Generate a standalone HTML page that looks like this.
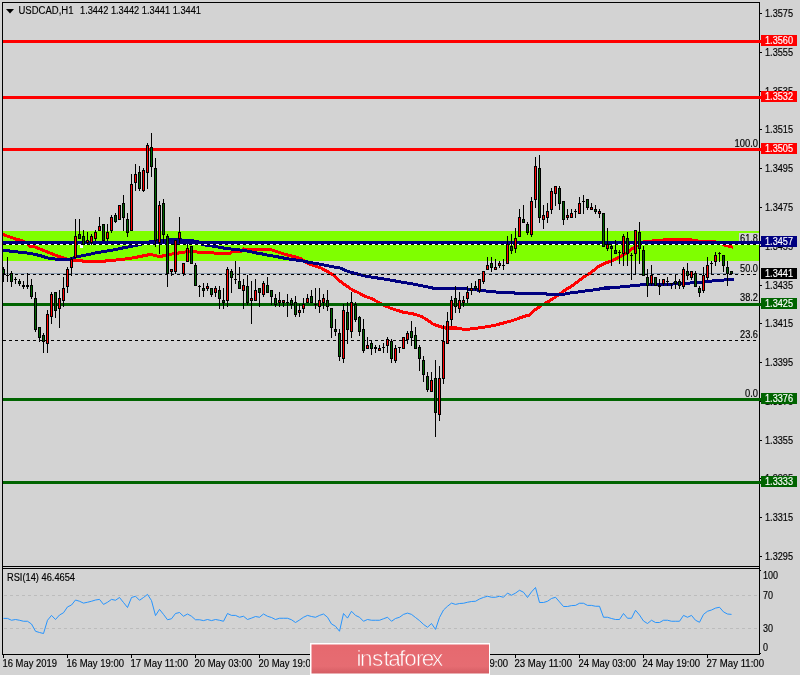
<!DOCTYPE html>
<html lang="en"><head><meta charset="utf-8"><title>USDCAD H1</title>
<style>html,body{margin:0;padding:0;background:#d3d3d3;}body{width:800px;height:675px;overflow:hidden}svg{display:block}</style>
</head><body>
<svg width="800" height="675" viewBox="0 0 800 675" font-family="'Liberation Sans', sans-serif" font-size="10px">
<rect x="0" y="0" width="800" height="675" fill="#d3d3d3"/>
<g shape-rendering="crispEdges">
<rect x="3" y="231" width="756" height="30" fill="#7fff00"/>
<rect x="2" y="2" width="758" height="1" fill="#000"/>
<rect x="2" y="2" width="1" height="653" fill="#000"/>
<rect x="759" y="2" width="1" height="653" fill="#000"/>
<rect x="2" y="566" width="758" height="1" fill="#000"/>
<rect x="2" y="568" width="758" height="1" fill="#000"/>
<rect x="2" y="654" width="758" height="1" fill="#000"/>
<rect x="3" y="567" width="756" height="1" fill="#d3d3d3"/>
</g>
<g shape-rendering="crispEdges">
<rect x="760" y="13" width="2" height="1" fill="#000"/>
<rect x="760" y="52" width="2" height="1" fill="#000"/>
<rect x="760" y="91" width="2" height="1" fill="#000"/>
<rect x="760" y="129" width="2" height="1" fill="#000"/>
<rect x="760" y="168" width="2" height="1" fill="#000"/>
<rect x="760" y="207" width="2" height="1" fill="#000"/>
<rect x="760" y="246" width="2" height="1" fill="#000"/>
<rect x="760" y="285" width="2" height="1" fill="#000"/>
<rect x="760" y="323" width="2" height="1" fill="#000"/>
<rect x="760" y="362" width="2" height="1" fill="#000"/>
<rect x="760" y="401" width="2" height="1" fill="#000"/>
<rect x="760" y="440" width="2" height="1" fill="#000"/>
<rect x="760" y="478" width="2" height="1" fill="#000"/>
<rect x="760" y="517" width="2" height="1" fill="#000"/>
<rect x="760" y="556" width="2" height="1" fill="#000"/>
</g>
<text x="765" y="17" fill="#000" stroke="#000" stroke-width="0.15" textLength="28" lengthAdjust="spacingAndGlyphs">1.3575</text>
<text x="765" y="56" fill="#000" stroke="#000" stroke-width="0.15" textLength="28" lengthAdjust="spacingAndGlyphs">1.3555</text>
<text x="765" y="95" fill="#000" stroke="#000" stroke-width="0.15" textLength="28" lengthAdjust="spacingAndGlyphs">1.3535</text>
<text x="765" y="133" fill="#000" stroke="#000" stroke-width="0.15" textLength="28" lengthAdjust="spacingAndGlyphs">1.3515</text>
<text x="765" y="172" fill="#000" stroke="#000" stroke-width="0.15" textLength="28" lengthAdjust="spacingAndGlyphs">1.3495</text>
<text x="765" y="211" fill="#000" stroke="#000" stroke-width="0.15" textLength="28" lengthAdjust="spacingAndGlyphs">1.3475</text>
<text x="765" y="250" fill="#000" stroke="#000" stroke-width="0.15" textLength="28" lengthAdjust="spacingAndGlyphs">1.3455</text>
<text x="765" y="289" fill="#000" stroke="#000" stroke-width="0.15" textLength="28" lengthAdjust="spacingAndGlyphs">1.3435</text>
<text x="765" y="327" fill="#000" stroke="#000" stroke-width="0.15" textLength="28" lengthAdjust="spacingAndGlyphs">1.3415</text>
<text x="765" y="366" fill="#000" stroke="#000" stroke-width="0.15" textLength="28" lengthAdjust="spacingAndGlyphs">1.3395</text>
<text x="765" y="405" fill="#000" stroke="#000" stroke-width="0.15" textLength="28" lengthAdjust="spacingAndGlyphs">1.3375</text>
<text x="765" y="444" fill="#000" stroke="#000" stroke-width="0.15" textLength="28" lengthAdjust="spacingAndGlyphs">1.3355</text>
<text x="765" y="482" fill="#000" stroke="#000" stroke-width="0.15" textLength="28" lengthAdjust="spacingAndGlyphs">1.3335</text>
<text x="765" y="521" fill="#000" stroke="#000" stroke-width="0.15" textLength="28" lengthAdjust="spacingAndGlyphs">1.3315</text>
<text x="765" y="560" fill="#000" stroke="#000" stroke-width="0.15" textLength="28" lengthAdjust="spacingAndGlyphs">1.3295</text>
<text x="763" y="579" fill="#000" stroke="#000" stroke-width="0.15" textLength="15" lengthAdjust="spacingAndGlyphs">100</text>
<text x="763" y="599" fill="#000" stroke="#000" stroke-width="0.15" textLength="10" lengthAdjust="spacingAndGlyphs">70</text>
<text x="763" y="632" fill="#000" stroke="#000" stroke-width="0.15" textLength="10" lengthAdjust="spacingAndGlyphs">30</text>
<text x="763" y="651" fill="#000" stroke="#000" stroke-width="0.15" textLength="5" lengthAdjust="spacingAndGlyphs">0</text>
<g shape-rendering="crispEdges">
<rect x="760" y="570" width="1" height="1" fill="#000"/>
<rect x="760" y="653" width="1" height="1" fill="#000"/>
<path d="M4 595.5H758M4 628.5H758" stroke="#bcbcbc" stroke-width="1" stroke-dasharray="3 3" fill="none"/>
</g>
<rect x="3" y="273" width="756" height="1" fill="#8a9bb0" shape-rendering="crispEdges"/>
<path d="M3 233h1v3h-1zM4 233h1v4h-1zM5 234h2v3h-2zM7 235h3v3h-3zM10 236h3v3h-3zM13 237h2v3h-2zM15 237h1v4h-1zM16 238h3v3h-3zM19 238h1v4h-1zM20 239h3v3h-3zM23 240h2v3h-2zM25 241h1v3h-1zM26 241h1v4h-1zM27 242h1v4h-1zM28 243h1v4h-1zM29 244h1v4h-1zM30 245h5v3h-5zM35 246h2v3h-2zM37 246h1v4h-1zM38 247h2v3h-2zM40 248h2v3h-2zM42 248h1v4h-1zM43 249h2v3h-2zM45 250h2v3h-2zM47 250h1v4h-1zM48 251h2v3h-2zM50 252h2v3h-2zM52 252h1v4h-1zM53 253h2v3h-2zM55 254h2v3h-2zM57 254h1v4h-1zM58 255h3v3h-3zM61 256h3v3h-3zM64 257h3v3h-3zM67 258h5v3h-5zM72 259h10v3h-10zM82 259h1v4h-1zM83 260h22v3h-22zM105 259h1v4h-1zM106 259h10v3h-10zM116 258h9v3h-9zM125 257h7v3h-7zM132 256h5v3h-5zM137 255h1v4h-1zM138 255h4v3h-4zM142 254h1v4h-1zM143 254h4v3h-4zM147 253h1v4h-1zM148 253h5v3h-5zM153 254h4v3h-4zM157 255h5v3h-5zM162 254h1v4h-1zM163 254h3v3h-3zM166 253h6v3h-6zM172 252h6v3h-6zM178 251h1v4h-1zM179 251h6v3h-6zM185 250h12v3h-12zM197 251h17v3h-17zM214 252h16v3h-16zM230 251h1v4h-1zM231 251h1v3h-1zM232 250h9v3h-9zM241 249h1v4h-1zM242 248h1v4h-1zM243 247h1v4h-1zM244 248h28v3h-28zM272 249h3v3h-3zM275 250h3v3h-3zM278 251h3v3h-3zM281 252h3v3h-3zM284 253h3v3h-3zM287 253h1v4h-1zM288 254h3v3h-3zM291 254h1v4h-1zM292 255h3v3h-3zM295 255h1v4h-1zM296 256h3v3h-3zM299 257h2v3h-2zM301 257h1v4h-1zM302 258h1v4h-1zM303 259h1v3h-1zM304 259h1v4h-1zM305 260h1v4h-1zM306 261h1v3h-1zM307 261h1v4h-1zM308 262h1v3h-1zM309 263h3v3h-3zM312 264h3v3h-3zM315 265h3v3h-3zM318 266h3v3h-3zM321 267h1v3h-1zM322 267h1v4h-1zM323 268h1v3h-1zM324 268h1v4h-1zM325 269h1v3h-1zM326 269h1v4h-1zM327 270h1v3h-1zM328 270h1v4h-1zM329 271h1v3h-1zM330 272h1v3h-1zM331 272h1v4h-1zM332 273h1v3h-1zM333 273h1v4h-1zM334 274h1v4h-1zM335 275h1v4h-1zM336 276h1v4h-1zM337 277h1v4h-1zM338 278h1v4h-1zM339 279h1v4h-1zM340 280h1v3h-1zM341 280h1v4h-1zM342 281h1v4h-1zM343 282h1v4h-1zM344 283h1v3h-1zM345 283h1v4h-1zM346 284h1v4h-1zM347 285h1v3h-1zM348 285h1v4h-1zM349 286h1v4h-1zM350 287h1v3h-1zM351 288h1v3h-1zM352 288h1v4h-1zM353 289h1v3h-1zM354 289h1v4h-1zM355 290h2v3h-2zM357 291h2v3h-2zM359 292h1v3h-1zM360 292h1v4h-1zM361 293h1v3h-1zM362 293h1v4h-1zM363 294h1v3h-1zM364 294h1v4h-1zM365 295h2v3h-2zM367 296h3v3h-3zM370 297h2v3h-2zM372 297h1v4h-1zM373 298h1v3h-1zM374 298h1v4h-1zM375 299h1v3h-1zM376 300h1v3h-1zM377 300h1v4h-1zM378 301h1v3h-1zM379 301h1v4h-1zM380 302h1v3h-1zM381 302h1v4h-1zM382 303h1v3h-1zM383 303h1v4h-1zM384 304h1v3h-1zM385 304h1v4h-1zM386 305h2v3h-2zM388 306h2v3h-2zM390 307h3v3h-3zM393 308h3v3h-3zM396 309h3v3h-3zM399 309h1v4h-1zM400 310h2v3h-2zM402 310h1v4h-1zM403 311h5v3h-5zM408 312h5v3h-5zM413 312h1v4h-1zM414 313h3v3h-3zM417 314h3v3h-3zM420 315h2v3h-2zM422 315h1v4h-1zM423 316h1v3h-1zM424 317h1v3h-1zM425 317h1v4h-1zM426 318h1v3h-1zM427 318h1v4h-1zM428 319h1v4h-1zM429 320h1v3h-1zM430 320h1v4h-1zM431 321h1v4h-1zM432 322h1v3h-1zM433 323h2v3h-2zM435 323h1v4h-1zM436 324h2v3h-2zM438 324h1v4h-1zM439 325h2v3h-2zM441 325h1v4h-1zM442 326h3v3h-3zM445 326h12v4h-12zM457 327h5v3h-5zM462 328h8v3h-8zM470 327h8v3h-8zM478 326h7v3h-7zM485 325h6v3h-6zM491 324h5v3h-5zM496 323h3v3h-3zM499 322h1v4h-1zM500 322h3v3h-3zM503 321h1v4h-1zM504 321h3v3h-3zM507 320h4v3h-4zM511 319h3v3h-3zM514 318h3v3h-3zM517 317h2v3h-2zM519 316h1v4h-1zM520 316h2v3h-2zM522 315h1v4h-1zM523 315h2v3h-2zM525 314h1v4h-1zM526 314h3v3h-3zM529 313h1v4h-1zM530 312h1v4h-1zM531 311h1v4h-1zM532 310h1v4h-1zM533 309h1v4h-1zM534 308h1v4h-1zM535 308h1v3h-1zM536 307h1v4h-1zM537 306h1v4h-1zM538 306h1v3h-1zM539 305h1v4h-1zM540 304h1v4h-1zM541 304h1v3h-1zM542 303h2v3h-2zM544 302h1v3h-1zM545 301h1v4h-1zM546 301h1v3h-1zM547 300h1v4h-1zM548 300h1v3h-1zM549 299h1v4h-1zM550 298h1v4h-1zM551 298h1v3h-1zM552 297h1v4h-1zM553 297h1v3h-1zM554 296h1v3h-1zM555 295h1v4h-1zM556 294h1v4h-1zM557 294h1v3h-1zM558 293h1v4h-1zM559 292h1v4h-1zM560 292h1v3h-1zM561 291h1v4h-1zM562 290h1v4h-1zM563 289h1v4h-1zM564 289h1v3h-1zM565 288h1v4h-1zM566 287h1v4h-1zM567 287h1v3h-1zM568 286h1v4h-1zM569 286h1v3h-1zM570 285h1v4h-1zM571 284h1v4h-1zM572 284h1v3h-1zM573 283h1v4h-1zM574 282h1v4h-1zM575 281h1v4h-1zM576 281h1v3h-1zM577 280h1v4h-1zM578 279h1v4h-1zM579 278h1v4h-1zM580 278h1v3h-1zM581 277h1v4h-1zM582 276h1v4h-1zM583 275h1v4h-1zM584 275h1v3h-1zM585 274h1v4h-1zM586 274h1v3h-1zM587 273h1v3h-1zM588 272h1v4h-1zM589 272h1v3h-1zM590 271h1v4h-1zM591 270h1v4h-1zM592 269h1v4h-1zM593 269h1v3h-1zM594 268h1v4h-1zM595 267h1v4h-1zM596 266h1v4h-1zM597 265h1v4h-1zM598 265h1v3h-1zM599 264h1v4h-1zM600 264h1v3h-1zM601 263h1v4h-1zM602 263h1v3h-1zM603 262h1v4h-1zM604 262h1v3h-1zM605 261h1v4h-1zM606 261h2v3h-2zM608 260h1v4h-1zM609 260h2v3h-2zM611 259h1v4h-1zM612 259h1v3h-1zM613 258h1v4h-1zM614 258h1v3h-1zM615 257h1v4h-1zM616 257h1v3h-1zM617 256h1v4h-1zM618 256h1v3h-1zM619 255h1v4h-1zM620 255h1v3h-1zM621 254h1v4h-1zM622 254h1v3h-1zM623 253h1v4h-1zM624 253h1v3h-1zM625 252h1v3h-1zM626 251h1v4h-1zM627 250h1v4h-1zM628 250h1v3h-1zM629 249h1v4h-1zM630 248h1v4h-1zM631 247h1v4h-1zM632 247h1v3h-1zM633 246h1v4h-1zM634 245h1v4h-1zM635 244h1v4h-1zM636 244h1v3h-1zM637 243h1v4h-1zM638 243h1v3h-1zM639 242h1v4h-1zM640 242h1v3h-1zM641 241h2v3h-2zM643 240h1v4h-1zM644 240h8v3h-8zM652 239h1v4h-1zM653 239h10v3h-10zM663 238h29v3h-29zM692 239h6v3h-6zM698 240h18v3h-18zM716 241h3v3h-3zM719 241h1v4h-1zM720 242h2v3h-2zM722 243h2v3h-2zM724 243h1v4h-1zM725 244h3v3h-3zM728 245h4v3h-4zM732 246h1v3h-1z" fill="#ff0000" shape-rendering="crispEdges"/>
<path d="M3 249h6v3h-6zM9 249h1v4h-1zM10 250h8v3h-8zM18 251h9v3h-9zM27 252h6v3h-6zM33 253h4v3h-4zM37 253h1v4h-1zM38 254h3v3h-3zM41 254h1v4h-1zM42 255h2v3h-2zM44 255h1v4h-1zM45 256h3v3h-3zM48 257h7v3h-7zM55 258h15v3h-15zM70 257h3v3h-3zM73 256h3v3h-3zM76 255h5v3h-5zM81 254h5v3h-5zM86 253h5v3h-5zM91 252h4v3h-4zM95 251h6v3h-6zM101 250h6v3h-6zM107 249h6v3h-6zM113 248h5v3h-5zM118 247h4v3h-4zM122 246h1v4h-1zM123 246h5v3h-5zM128 245h5v3h-5zM133 244h4v3h-4zM137 243h1v4h-1zM138 243h3v3h-3zM141 242h1v4h-1zM142 242h3v3h-3zM145 241h1v4h-1zM146 241h3v3h-3zM149 240h1v4h-1zM150 240h4v3h-4zM154 239h13v3h-13zM167 238h1v4h-1zM168 238h13v3h-13zM181 238h1v4h-1zM182 239h12v3h-12zM194 240h4v3h-4zM198 240h1v4h-1zM199 241h1v4h-1zM200 242h1v3h-1zM201 242h1v4h-1zM202 243h3v3h-3zM205 244h7v3h-7zM212 245h6v3h-6zM218 246h5v3h-5zM223 246h1v4h-1zM224 247h7v3h-7zM231 248h9v3h-9zM240 249h7v3h-7zM247 250h5v3h-5zM252 251h4v3h-4zM256 251h1v4h-1zM257 252h5v3h-5zM262 252h1v4h-1zM263 253h4v3h-4zM267 254h6v3h-6zM273 255h5v3h-5zM278 255h1v4h-1zM279 256h4v3h-4zM283 256h1v4h-1zM284 257h5v3h-5zM289 258h7v3h-7zM296 259h7v3h-7zM303 260h4v3h-4zM307 260h1v4h-1zM308 261h5v3h-5zM313 262h6v3h-6zM319 263h5v3h-5zM324 264h5v3h-5zM329 265h5v3h-5zM334 266h6v3h-6zM340 267h2v3h-2zM342 267h1v4h-1zM343 268h1v3h-1zM344 268h1v4h-1zM345 269h2v3h-2zM347 270h3v3h-3zM350 271h3v3h-3zM353 271h1v4h-1zM354 272h3v3h-3zM357 272h1v4h-1zM358 273h3v3h-3zM361 274h4v3h-4zM365 275h6v3h-6zM371 276h6v3h-6zM377 276h1v4h-1zM378 277h6v3h-6zM384 278h6v3h-6zM390 279h5v3h-5zM395 279h1v4h-1zM396 280h5v3h-5zM401 281h6v3h-6zM407 282h6v3h-6zM413 283h5v3h-5zM418 284h5v3h-5zM423 285h5v3h-5zM428 286h4v3h-4zM432 286h1v4h-1zM433 287h34v3h-34zM467 287h1v4h-1zM468 288h9v3h-9zM477 288h1v4h-1zM478 289h8v3h-8zM486 290h10v3h-10zM496 291h18v3h-18zM514 291h1v4h-1zM515 292h31v3h-31zM546 292h1v4h-1zM547 293h18v3h-18zM565 292h5v3h-5zM570 291h8v3h-8zM578 290h7v3h-7zM585 289h8v3h-8zM593 288h6v3h-6zM599 287h1v4h-1zM600 287h4v3h-4zM604 286h6v4h-6zM610 286h10v3h-10zM620 285h10v3h-10zM630 284h10v3h-10zM640 283h33v3h-33zM673 282h17v3h-17zM690 281h14v3h-14zM704 280h8v3h-8zM712 279h12v3h-12zM724 278h10v3h-10z" fill="#000080" shape-rendering="crispEdges"/>
<path d="M3.5 618.4 L7.5 618.4 L11.5 620.25 L15.5 619.5 L19.5 620.25 L23.5 621.25 L27.5 621.25 L31.5 624 L35.5 631.25 L39.5 632.5 L43.5 633.5 L47.5 620.25 L51.5 615.4 L55.5 619.5 L59.5 615 L63.5 612.75 L67.5 606.9 L71.5 605 L75.5 600 L79.5 601.25 L83.5 603.1 L87.5 602.25 L91.5 601.25 L95.5 600 L99.5 599.4 L103.5 604.4 L107.5 602.25 L111.5 599.4 L115.5 600.25 L119.5 597.5 L123.5 602.5 L127.5 607.5 L131.5 597.5 L135.5 596.25 L139.5 600.25 L143.5 597.5 L147.5 594.4 L151.5 600.6 L155.5 615.6 L159.5 609.4 L163.5 614.4 L167.5 619.75 L171.5 618.75 L175.5 613.5 L179.5 612.5 L183.5 616.25 L187.5 614 L191.5 616.25 L195.5 619.75 L199.5 619.75 L203.5 620.6 L207.5 619.5 L211.5 620.6 L215.5 619.5 L219.5 620.25 L223.5 621.25 L227.5 613.5 L231.5 615.4 L235.5 615.4 L239.5 617.25 L243.5 616.25 L247.5 619.5 L251.5 618.1 L255.5 616.5 L259.5 617.25 L263.5 614 L267.5 616.25 L271.5 617.5 L275.5 619.5 L279.5 618.25 L283.5 618.25 L287.5 618.25 L291.5 619.75 L295.5 622.5 L299.5 620 L303.5 617.25 L307.5 615.4 L311.5 616.5 L315.5 617.25 L319.5 615.4 L323.5 614 L327.5 617.25 L331.5 624 L335.5 626.25 L339.5 631.25 L343.5 613.5 L347.5 618.1 L351.5 611.25 L355.5 615.4 L359.5 617.25 L363.5 621.25 L367.5 619.5 L371.5 620.25 L375.5 620.25 L379.5 620.25 L383.5 618.75 L387.5 617.25 L391.5 621.25 L395.5 618.5 L399.5 617.25 L403.5 614.4 L407.5 613.1 L411.5 614.4 L415.5 617.5 L419.5 620.6 L423.5 624.4 L427.5 627.25 L431.5 623.5 L435.5 629.4 L439.5 617.5 L443.5 610 L447.5 606.25 L451.5 603.1 L455.5 604.4 L459.5 603.5 L463.5 603.25 L467.5 602.25 L471.5 601.5 L475.5 601.25 L479.5 599 L483.5 597.4 L487.5 596.25 L491.5 597.25 L495.5 597.25 L499.5 596.25 L503.5 597.25 L507.5 593.1 L511.5 595.25 L515.5 593.1 L519.5 590.25 L523.5 592.25 L527.5 597.5 L531.5 591.9 L535.5 587.5 L539.5 602.5 L543.5 602.5 L547.5 601.25 L551.5 598.5 L555.5 597.25 L559.5 601.9 L563.5 606.5 L567.5 606.5 L571.5 605.6 L575.5 605.4 L579.5 603.25 L583.5 603.25 L587.5 605.4 L591.5 605.4 L595.5 606.25 L599.5 606.25 L603.5 617.25 L607.5 617.25 L611.5 618.5 L615.5 619.5 L619.5 619.5 L623.5 613.5 L627.5 618.25 L631.5 618.25 L635.5 610.25 L639.5 615 L643.5 621 L647.5 623.5 L651.5 620.25 L655.5 622.5 L659.5 622.5 L663.5 620.25 L667.5 620.25 L671.5 621.25 L675.5 621.25 L679.5 621.25 L683.5 615.4 L687.5 617.25 L691.5 615.4 L695.5 620.25 L699.5 622.25 L703.5 614.4 L707.5 611.25 L711.5 610 L715.5 608.1 L719.5 607.25 L723.5 611.9 L727.5 614 L731.5 614.4" fill="none" stroke="#1e90ff" stroke-width="0.95" stroke-linejoin="round" stroke-linecap="butt"/>
<rect x="739" y="233" width="20" height="11" fill="#d3d3d3" shape-rendering="crispEdges"/>
<rect x="739" y="263" width="20" height="11" fill="#d3d3d3" shape-rendering="crispEdges"/>
<text x="758" y="147" fill="#000" stroke="#000" stroke-width="0.15" text-anchor="end" textLength="23.5" lengthAdjust="spacingAndGlyphs">100.0</text>
<text x="758" y="242" fill="#000" stroke="#000" stroke-width="0.15" text-anchor="end" textLength="18" lengthAdjust="spacingAndGlyphs">61.8</text>
<text x="758" y="272" fill="#000" stroke="#000" stroke-width="0.15" text-anchor="end" textLength="18" lengthAdjust="spacingAndGlyphs">50.0</text>
<text x="758" y="301" fill="#000" stroke="#000" stroke-width="0.15" text-anchor="end" textLength="18" lengthAdjust="spacingAndGlyphs">38.2</text>
<text x="758" y="338.3" fill="#000" stroke="#000" stroke-width="0.15" text-anchor="end" textLength="18" lengthAdjust="spacingAndGlyphs">23.6</text>
<text x="758" y="397" fill="#000" stroke="#000" stroke-width="0.15" text-anchor="end" textLength="13" lengthAdjust="spacingAndGlyphs">0.0</text>
<g shape-rendering="crispEdges">
<rect x="3" y="244" width="756" height="1" fill="#ffffff"/>
<path d="M3 244.5H759M3 274.5H759M3 340.5H759" stroke="#000" stroke-width="1" stroke-dasharray="3 3" fill="none"/>
<rect x="3" y="40" width="758" height="3" fill="#ff0000"/>
<rect x="3" y="96" width="758" height="3" fill="#ff0000"/>
<rect x="3" y="148" width="758" height="3" fill="#ff0000"/>
<rect x="3" y="303" width="758" height="3" fill="#006400"/>
<rect x="3" y="398" width="758" height="3" fill="#006400"/>
<rect x="3" y="481" width="758" height="3" fill="#006400"/>
<rect x="3" y="241" width="758" height="3" fill="#000080"/>
</g>
<g shape-rendering="crispEdges">
<path d="M3 267h1v15h-1zM7 257h1v25h-1zM11 271h1v16h-1zM15 277h1v7h-1zM19 279h1v7h-1zM23 281h1v8h-1zM27 273h1v16h-1zM31 279h1v20h-1zM35 292h1v40h-1zM39 327h1v15h-1zM43 333h1v20h-1zM47 310h1v43h-1zM51 292h1v32h-1zM55 292h1v26h-1zM59 290h1v38h-1zM63 277h1v30h-1zM67 267h1v26h-1zM71 257h1v19h-1zM75 219h1v39h-1zM79 219h1v20h-1zM83 230h1v15h-1zM87 232h1v13h-1zM91 234h1v11h-1zM95 230h1v11h-1zM99 217h1v14h-1zM103 224h1v17h-1zM107 224h1v17h-1zM111 215h1v18h-1zM115 213h1v10h-1zM119 205h1v15h-1zM123 195h1v36h-1zM127 213h1v24h-1zM131 174h1v57h-1zM135 164h1v27h-1zM139 166h1v25h-1zM143 168h1v24h-1zM147 143h1v46h-1zM151 133h1v44h-1zM155 158h1v89h-1zM159 201h1v53h-1zM163 199h1v44h-1zM167 234h1v53h-1zM171 269h1v7h-1zM175 240h1v34h-1zM179 217h1v26h-1zM183 263h1v13h-1zM187 244h1v18h-1zM191 246h1v18h-1zM195 263h1v23h-1zM199 285h1v12h-1zM203 283h1v14h-1zM207 283h1v8h-1zM211 288h1v9h-1zM215 286h1v11h-1zM219 286h1v23h-1zM223 288h1v21h-1zM227 267h1v40h-1zM231 269h1v24h-1zM235 261h1v23h-1zM239 267h1v22h-1zM243 279h1v30h-1zM247 275h1v30h-1zM251 281h1v43h-1zM255 279h1v22h-1zM259 288h1v19h-1zM263 281h1v16h-1zM267 277h1v16h-1zM271 290h1v15h-1zM275 294h1v13h-1zM279 292h1v15h-1zM283 300h1v7h-1zM287 294h1v23h-1zM291 298h1v11h-1zM295 296h1v21h-1zM299 304h1v13h-1zM303 298h1v15h-1zM307 294h1v9h-1zM311 290h1v13h-1zM315 288h1v21h-1zM319 288h1v25h-1zM323 294h1v15h-1zM327 290h1v21h-1zM331 308h1v30h-1zM335 319h1v17h-1zM339 329h1v32h-1zM343 304h1v59h-1zM347 302h1v42h-1zM351 292h1v46h-1zM355 302h1v20h-1zM359 316h1v20h-1zM363 319h1v34h-1zM367 337h1v12h-1zM371 341h1v14h-1zM375 345h1v8h-1zM379 345h1v6h-1zM383 343h1v10h-1zM387 337h1v16h-1zM391 339h1v24h-1zM395 345h1v18h-1zM399 347h1v6h-1zM403 337h1v12h-1zM407 331h1v13h-1zM411 321h1v25h-1zM415 327h1v22h-1zM419 345h1v26h-1zM423 356h1v26h-1zM427 372h1v20h-1zM431 372h1v20h-1zM435 360h1v77h-1zM439 366h1v55h-1zM443 325h1v59h-1zM447 312h1v32h-1zM451 296h1v30h-1zM455 286h1v27h-1zM459 292h1v21h-1zM463 296h1v11h-1zM467 286h1v17h-1zM471 283h1v12h-1zM475 281h1v10h-1zM479 279h1v14h-1zM483 271h1v13h-1zM487 257h1v13h-1zM491 257h1v15h-1zM495 259h1v11h-1zM499 261h1v7h-1zM503 259h1v11h-1zM507 236h1v28h-1zM511 234h1v20h-1zM515 228h1v25h-1zM519 209h1v28h-1zM523 205h1v18h-1zM527 222h1v13h-1zM531 197h1v40h-1zM535 157h1v51h-1zM539 155h1v68h-1zM543 205h1v24h-1zM547 203h1v20h-1zM551 188h1v26h-1zM555 186h1v20h-1zM559 186h1v24h-1zM563 201h1v24h-1zM567 209h1v11h-1zM571 209h1v9h-1zM575 209h1v9h-1zM579 197h1v17h-1zM583 195h1v19h-1zM587 199h1v11h-1zM591 203h1v7h-1zM595 205h1v9h-1zM599 209h1v9h-1zM603 213h1v34h-1zM607 228h1v23h-1zM611 244h1v22h-1zM615 240h1v14h-1zM619 250h1v14h-1zM623 234h1v32h-1zM627 232h1v34h-1zM631 253h1v27h-1zM635 230h1v44h-1zM639 222h1v42h-1zM643 246h1v30h-1zM647 269h1v28h-1zM651 265h1v21h-1zM655 277h1v9h-1zM659 279h1v16h-1zM663 279h1v7h-1zM667 277h1v9h-1zM671 283h1v6h-1zM675 275h1v14h-1zM679 279h1v10h-1zM683 267h1v22h-1zM687 263h1v17h-1zM691 271h1v9h-1zM695 271h1v16h-1zM699 286h1v11h-1zM703 267h1v26h-1zM707 257h1v23h-1zM711 261h1v13h-1zM715 252h1v14h-1zM719 252h1v10h-1zM723 255h1v17h-1zM727 261h1v25h-1zM731 271h1v3h-1zM2 269h3v5h-3zM6 275h3v1h-3zM10 273h3v9h-3zM14 279h3v1h-3zM18 281h3v3h-3zM22 285h3v2h-3zM26 285h3v2h-3zM30 285h3v12h-3zM34 298h3v32h-3zM38 327h3v11h-3zM42 335h3v7h-3zM46 314h3v30h-3zM50 294h3v23h-3zM54 292h3v19h-3zM58 298h3v11h-3zM62 288h3v13h-3zM66 269h3v18h-3zM70 259h3v9h-3zM74 236h3v22h-3zM78 234h3v5h-3zM82 236h3v9h-3zM86 240h3v3h-3zM90 236h3v7h-3zM94 232h3v7h-3zM98 226h3v5h-3zM102 224h3v17h-3zM106 232h3v7h-3zM110 217h3v14h-3zM114 215h3v7h-3zM118 205h3v15h-3zM122 203h3v15h-3zM126 219h3v14h-3zM130 184h3v47h-3zM134 174h3v9h-3zM138 172h3v17h-3zM142 170h3v21h-3zM146 145h3v28h-3zM150 147h3v20h-3zM154 168h3v73h-3zM158 205h3v38h-3zM162 203h3v32h-3zM166 236h3v38h-3zM170 269h3v3h-3zM174 240h3v32h-3zM178 232h3v7h-3zM182 263h3v11h-3zM186 248h3v14h-3zM190 246h3v18h-3zM194 265h3v21h-3zM198 286h3v1h-3zM202 288h3v3h-3zM206 286h3v3h-3zM210 288h3v7h-3zM214 288h3v5h-3zM218 290h3v9h-3zM222 300h3v3h-3zM226 269h3v32h-3zM230 271h3v7h-3zM234 279h3v1h-3zM238 281h3v8h-3zM242 285h3v6h-3zM246 286h3v17h-3zM250 298h3v3h-3zM254 290h3v11h-3zM258 288h3v5h-3zM262 283h3v12h-3zM266 285h3v8h-3zM270 290h3v7h-3zM274 298h3v7h-3zM278 300h3v3h-3zM282 300h3v3h-3zM286 302h3v1h-3zM290 300h3v5h-3zM294 302h3v13h-3zM298 310h3v3h-3zM302 304h3v5h-3zM306 298h3v5h-3zM310 296h3v7h-3zM314 304h3v1h-3zM318 300h3v7h-3zM322 298h3v5h-3zM326 300h3v7h-3zM330 308h3v20h-3zM334 329h3v3h-3zM338 333h3v24h-3zM342 310h3v49h-3zM346 312h3v18h-3zM350 302h3v30h-3zM354 304h3v16h-3zM358 317h3v15h-3zM362 329h3v22h-3zM366 345h3v4h-3zM370 343h3v6h-3zM374 347h3v2h-3zM378 348h3v3h-3zM382 347h3v1h-3zM386 339h3v7h-3zM390 341h3v18h-3zM394 348h3v13h-3zM398 347h3v1h-3zM402 337h3v12h-3zM406 333h3v7h-3zM410 331h3v7h-3zM414 335h3v14h-3zM418 347h3v12h-3zM422 360h3v15h-3zM426 376h3v14h-3zM430 380h3v12h-3zM434 378h3v35h-3zM438 378h3v37h-3zM442 341h3v38h-3zM446 321h3v23h-3zM450 300h3v20h-3zM454 298h3v9h-3zM458 300h3v9h-3zM462 300h3v3h-3zM466 292h3v7h-3zM470 288h3v3h-3zM474 286h3v3h-3zM478 279h3v12h-3zM482 271h3v11h-3zM486 265h3v5h-3zM490 263h3v5h-3zM494 267h3v3h-3zM498 263h3v3h-3zM502 265h3v1h-3zM506 244h3v20h-3zM510 246h3v5h-3zM514 238h3v11h-3zM518 217h3v20h-3zM522 219h3v4h-3zM526 224h3v9h-3zM530 201h3v34h-3zM534 166h3v34h-3zM538 168h3v50h-3zM542 215h3v5h-3zM546 211h3v7h-3zM550 191h3v19h-3zM554 186h3v8h-3zM558 188h3v16h-3zM562 201h3v19h-3zM566 215h3v3h-3zM570 213h3v5h-3zM574 211h3v1h-3zM578 203h3v11h-3zM582 201h3v1h-3zM586 199h3v9h-3zM590 207h3v3h-3zM594 209h3v3h-3zM598 211h3v3h-3zM602 213h3v34h-3zM606 244h3v5h-3zM610 246h3v3h-3zM614 250h3v4h-3zM618 252h3v1h-3zM622 236h3v18h-3zM626 238h3v16h-3zM630 255h3v1h-3zM634 230h3v24h-3zM638 232h3v17h-3zM642 250h3v26h-3zM646 277h3v9h-3zM650 275h3v9h-3zM654 277h3v9h-3zM658 285h3v2h-3zM662 279h3v5h-3zM666 281h3v1h-3zM670 283h3v1h-3zM674 281h3v3h-3zM678 281h3v5h-3zM682 269h3v18h-3zM686 271h3v5h-3zM690 271h3v7h-3zM694 273h3v14h-3zM698 288h3v5h-3zM702 275h3v16h-3zM706 265h3v13h-3zM710 263h3v1h-3zM714 255h3v7h-3zM718 253h3v1h-3zM722 255h3v11h-3zM726 267h3v7h-3zM730 271h3v3h-3z" fill="#000"/>
<path d="M47 315h1v28h-1zM51 295h1v21h-1zM59 299h1v9h-1zM63 289h1v11h-1zM67 270h1v16h-1zM71 260h1v7h-1zM75 237h1v20h-1zM87 241h1v1h-1zM91 237h1v5h-1zM95 233h1v5h-1zM99 227h1v3h-1zM107 233h1v5h-1zM111 218h1v12h-1zM119 206h1v13h-1zM131 185h1v45h-1zM135 175h1v7h-1zM143 171h1v19h-1zM147 146h1v26h-1zM159 206h1v36h-1zM171 270h1v1h-1zM175 241h1v30h-1zM179 233h1v5h-1zM183 264h1v9h-1zM187 249h1v12h-1zM207 287h1v1h-1zM215 289h1v3h-1zM227 270h1v30h-1zM243 286h1v4h-1zM251 299h1v1h-1zM255 291h1v9h-1zM263 284h1v10h-1zM279 301h1v1h-1zM283 301h1v1h-1zM299 311h1v1h-1zM303 305h1v3h-1zM307 299h1v3h-1zM319 301h1v5h-1zM323 299h1v3h-1zM343 311h1v47h-1zM351 303h1v28h-1zM367 346h1v2h-1zM379 349h1v1h-1zM387 340h1v5h-1zM395 349h1v11h-1zM403 338h1v10h-1zM407 334h1v5h-1zM431 381h1v10h-1zM439 379h1v35h-1zM443 342h1v36h-1zM447 322h1v21h-1zM451 301h1v18h-1zM459 301h1v7h-1zM463 301h1v1h-1zM467 293h1v5h-1zM471 289h1v1h-1zM479 280h1v10h-1zM483 272h1v9h-1zM487 266h1v3h-1zM495 268h1v1h-1zM499 264h1v1h-1zM507 245h1v18h-1zM515 239h1v9h-1zM519 218h1v18h-1zM531 202h1v32h-1zM535 167h1v32h-1zM543 216h1v3h-1zM547 212h1v5h-1zM551 192h1v17h-1zM555 187h1v6h-1zM567 216h1v1h-1zM571 214h1v3h-1zM579 204h1v9h-1zM591 208h1v1h-1zM599 212h1v1h-1zM607 245h1v3h-1zM623 237h1v16h-1zM635 231h1v22h-1zM651 276h1v7h-1zM663 280h1v3h-1zM683 270h1v16h-1zM691 272h1v5h-1zM703 276h1v14h-1zM707 266h1v11h-1zM715 256h1v5h-1z" fill="#ff0000"/>
<path d="M3 270h1v3h-1zM11 274h1v7h-1zM19 282h1v1h-1zM31 286h1v10h-1zM35 299h1v30h-1zM39 328h1v9h-1zM43 336h1v5h-1zM55 293h1v17h-1zM79 235h1v3h-1zM83 237h1v7h-1zM103 225h1v15h-1zM115 216h1v5h-1zM123 204h1v13h-1zM127 220h1v12h-1zM139 173h1v15h-1zM151 148h1v18h-1zM155 169h1v71h-1zM163 204h1v30h-1zM167 237h1v36h-1zM191 247h1v16h-1zM195 266h1v19h-1zM203 289h1v1h-1zM211 289h1v5h-1zM219 291h1v7h-1zM223 301h1v1h-1zM231 272h1v5h-1zM239 282h1v6h-1zM247 287h1v15h-1zM259 289h1v3h-1zM267 286h1v6h-1zM271 291h1v5h-1zM275 299h1v5h-1zM291 301h1v3h-1zM295 303h1v11h-1zM311 297h1v5h-1zM327 301h1v5h-1zM331 309h1v18h-1zM335 330h1v1h-1zM339 334h1v22h-1zM347 313h1v16h-1zM355 305h1v14h-1zM359 318h1v13h-1zM363 330h1v20h-1zM371 344h1v4h-1zM391 342h1v16h-1zM411 332h1v5h-1zM415 336h1v12h-1zM419 348h1v10h-1zM423 361h1v13h-1zM427 377h1v12h-1zM435 379h1v33h-1zM455 299h1v7h-1zM475 287h1v1h-1zM491 264h1v3h-1zM511 247h1v3h-1zM523 220h1v2h-1zM527 225h1v7h-1zM539 169h1v48h-1zM559 189h1v14h-1zM563 202h1v17h-1zM587 200h1v7h-1zM595 210h1v1h-1zM603 214h1v32h-1zM611 247h1v1h-1zM615 251h1v2h-1zM627 239h1v14h-1zM639 233h1v15h-1zM643 251h1v24h-1zM647 278h1v7h-1zM655 278h1v7h-1zM675 282h1v1h-1zM679 282h1v3h-1zM687 272h1v3h-1zM695 274h1v12h-1zM699 289h1v3h-1zM723 256h1v9h-1zM727 268h1v5h-1zM731 272h1v1h-1z" fill="#006400"/>
<rect x="80" y="245" width="3" height="3" fill="#fff"/>
</g>
<rect x="761" y="35" width="36" height="11" fill="#ff0000" shape-rendering="crispEdges"/>
<text x="765" y="44" fill="#fff" stroke="#fff" stroke-width="0.15" textLength="28" lengthAdjust="spacingAndGlyphs">1.3560</text>
<rect x="761" y="91" width="36" height="11" fill="#ff0000" shape-rendering="crispEdges"/>
<text x="765" y="100" fill="#fff" stroke="#fff" stroke-width="0.15" textLength="28" lengthAdjust="spacingAndGlyphs">1.3532</text>
<rect x="761" y="143" width="36" height="11" fill="#ff0000" shape-rendering="crispEdges"/>
<text x="765" y="152" fill="#fff" stroke="#fff" stroke-width="0.15" textLength="28" lengthAdjust="spacingAndGlyphs">1.3505</text>
<rect x="761" y="236" width="36" height="11" fill="#000080" shape-rendering="crispEdges"/>
<text x="765" y="245" fill="#fff" stroke="#fff" stroke-width="0.15" textLength="28" lengthAdjust="spacingAndGlyphs">1.3457</text>
<rect x="761" y="268" width="36" height="11" fill="#000000" shape-rendering="crispEdges"/>
<text x="765" y="277" fill="#fff" stroke="#fff" stroke-width="0.15" textLength="28" lengthAdjust="spacingAndGlyphs">1.3441</text>
<rect x="761" y="298" width="36" height="11" fill="#006400" shape-rendering="crispEdges"/>
<text x="765" y="307" fill="#fff" stroke="#fff" stroke-width="0.15" textLength="28" lengthAdjust="spacingAndGlyphs">1.3425</text>
<rect x="761" y="393" width="36" height="11" fill="#006400" shape-rendering="crispEdges"/>
<text x="765" y="402" fill="#fff" stroke="#fff" stroke-width="0.15" textLength="28" lengthAdjust="spacingAndGlyphs">1.3376</text>
<rect x="761" y="476" width="36" height="11" fill="#006400" shape-rendering="crispEdges"/>
<text x="765" y="485" fill="#fff" stroke="#fff" stroke-width="0.15" textLength="28" lengthAdjust="spacingAndGlyphs">1.3333</text>
<path d="M6 9h8l-4 4.5z" fill="#000"/>
<text x="18.5" y="14" fill="#000" stroke="#000" stroke-width="0.15" textLength="55" lengthAdjust="spacingAndGlyphs">USDCAD,H1</text>
<text x="80" y="14" fill="#000" stroke="#000" stroke-width="0.15" textLength="121" lengthAdjust="spacingAndGlyphs">1.3442 1.3442 1.3441 1.3441</text>
<text x="7" y="581" fill="#000" stroke="#000" stroke-width="0.15" textLength="68" lengthAdjust="spacingAndGlyphs">RSI(14) 46.4654</text>
<g shape-rendering="crispEdges">
<rect x="3" y="655" width="1" height="3" fill="#000"/>
<rect x="67" y="655" width="1" height="3" fill="#000"/>
<rect x="131" y="655" width="1" height="3" fill="#000"/>
<rect x="195" y="655" width="1" height="3" fill="#000"/>
<rect x="259" y="655" width="1" height="3" fill="#000"/>
<rect x="323" y="655" width="1" height="3" fill="#000"/>
<rect x="387" y="655" width="1" height="3" fill="#000"/>
<rect x="451" y="655" width="1" height="3" fill="#000"/>
<rect x="515" y="655" width="1" height="3" fill="#000"/>
<rect x="579" y="655" width="1" height="3" fill="#000"/>
<rect x="643" y="655" width="1" height="3" fill="#000"/>
<rect x="707" y="655" width="1" height="3" fill="#000"/>
</g>
<text x="2.5" y="667.3" fill="#000" stroke="#000" stroke-width="0.15" textLength="54.5" lengthAdjust="spacingAndGlyphs">16 May 2019</text>
<text x="66.5" y="667.3" fill="#000" stroke="#000" stroke-width="0.15" textLength="57.5" lengthAdjust="spacingAndGlyphs">16 May 19:00</text>
<text x="130.5" y="667.3" fill="#000" stroke="#000" stroke-width="0.15" textLength="57.5" lengthAdjust="spacingAndGlyphs">17 May 11:00</text>
<text x="194.5" y="667.3" fill="#000" stroke="#000" stroke-width="0.15" textLength="57.5" lengthAdjust="spacingAndGlyphs">20 May 03:00</text>
<text x="258.5" y="667.3" fill="#000" stroke="#000" stroke-width="0.15" textLength="57.5" lengthAdjust="spacingAndGlyphs">20 May 19:00</text>
<text x="322.5" y="667.3" fill="#000" stroke="#000" stroke-width="0.15" textLength="57.5" lengthAdjust="spacingAndGlyphs">21 May 11:00</text>
<text x="386.5" y="667.3" fill="#000" stroke="#000" stroke-width="0.15" textLength="57.5" lengthAdjust="spacingAndGlyphs">22 May 03:00</text>
<text x="450.5" y="667.3" fill="#000" stroke="#000" stroke-width="0.15" textLength="57.5" lengthAdjust="spacingAndGlyphs">22 May 19:00</text>
<text x="514.5" y="667.3" fill="#000" stroke="#000" stroke-width="0.15" textLength="57.5" lengthAdjust="spacingAndGlyphs">23 May 11:00</text>
<text x="578.5" y="667.3" fill="#000" stroke="#000" stroke-width="0.15" textLength="57.5" lengthAdjust="spacingAndGlyphs">24 May 03:00</text>
<text x="642.5" y="667.3" fill="#000" stroke="#000" stroke-width="0.15" textLength="57.5" lengthAdjust="spacingAndGlyphs">24 May 19:00</text>
<text x="706.5" y="667.3" fill="#000" stroke="#000" stroke-width="0.15" textLength="57.5" lengthAdjust="spacingAndGlyphs">27 May 11:00</text>
<rect x="310" y="643" width="180" height="32" fill="#fff" shape-rendering="crispEdges"/>
<defs><linearGradient id="lg" x1="0" y1="0" x2="0" y2="1"><stop offset="0" stop-color="#e6696f"/><stop offset="0.75" stop-color="#e66c72"/><stop offset="1" stop-color="#d45d63"/></linearGradient></defs>
<rect x="311.5" y="644.5" width="177.5" height="29" fill="url(#lg)"/>
<text x="356.4 360.1 371.9 383.4 388.2 399 404.3 416 421.8 432" y="665.5" fill="#fff" stroke="#e66a70" stroke-width="0.55" font-size="22.5px">instaforex</text>
</svg>
</body></html>
